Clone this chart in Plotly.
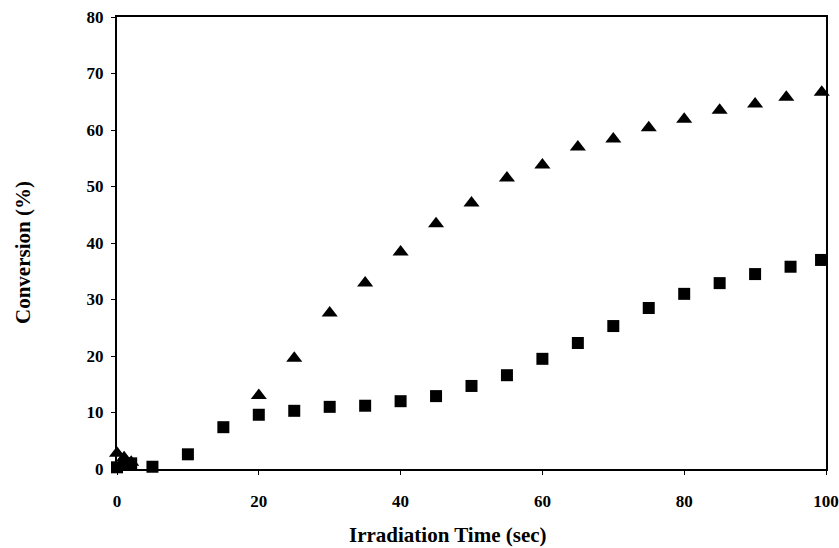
import plotly.graph_objects as go

time_tri = [0, 1, 2, 20, 25, 30, 35, 40, 45, 50, 55, 60, 65, 70, 75, 80, 85, 90, 94.4, 99.4, 100.3]
conv_tri = [2.8, 2.0, 1.2, 13.0, 19.6, 27.6, 32.9, 38.4, 43.4, 47.1, 51.5, 53.8, 57.0, 58.4, 60.4, 61.9, 63.5, 64.6, 65.8, 66.7, 67.6]

time_sq = [0, 1, 2, 5, 10, 15, 20, 25, 30, 35, 40, 45, 50, 55, 60, 65, 70, 75, 80, 85, 90, 95, 99.3]
conv_sq = [0.3, 0.8, 1.0, 0.4, 2.6, 7.4, 9.6, 10.3, 11.0, 11.2, 12.0, 12.9, 14.7, 16.6, 19.5, 22.3, 25.3, 28.5, 31.0, 32.9, 34.5, 35.8, 37.0]

x_ticks = [0, 20, 40, 60, 80, 100]
y_ticks = [0, 10, 20, 30, 40, 50, 60, 70, 80]

x_title = "Irradiation Time (sec)"
y_title = "Conversion (%)"

fig = go.Figure()
fig.add_trace(go.Scatter(x=time_tri, y=conv_tri, mode="markers", cliponaxis=False,
                         marker=dict(symbol="triangle-up", size=14, color="black"),
                         showlegend=False))
fig.add_trace(go.Scatter(x=time_sq, y=conv_sq, mode="markers", cliponaxis=False,
                         marker=dict(symbol="square", size=12, color="black"),
                         showlegend=False))

font_tick = dict(family="Liberation Serif", size=17, color="black")
title_font = dict(family="Liberation Serif", size=21, color="black")
fig.update_layout(
    width=839, height=548,
    margin=dict(l=117, r=13, t=17, b=79, autoexpand=False),
    paper_bgcolor="white", plot_bgcolor="white",
    font=dict(family="Liberation Serif", color="black"),
    xaxis=dict(range=[0, 100], tickvals=x_ticks, ticktext=[f"<b>{v}</b>" for v in x_ticks],
               ticks="outside", ticklen=4, tickwidth=1, tickcolor="black",
               ticklabelstandoff=12, automargin=False,
               showline=True, linecolor="black", linewidth=2, mirror=True,
               showgrid=False, zeroline=False, tickfont=font_tick),
    yaxis=dict(range=[0, 80], tickvals=y_ticks, ticktext=[f"<b>{v}</b>" for v in y_ticks],
               ticks="outside", ticklen=4, tickwidth=1, tickcolor="black",
               ticklabelstandoff=4, automargin=False,
               showline=True, linecolor="black", linewidth=2, mirror=True,
               showgrid=False, zeroline=False, tickfont=font_tick),
    annotations=[
        dict(text=f"<b>{x_title}</b>", xref="paper", yref="paper", x=0.467, y=-0.146,
             xanchor="center", yanchor="middle", showarrow=False, font=title_font),
        dict(text=f"<b>{y_title}</b>", xref="paper", yref="paper", x=-0.1326, y=0.48,
             xanchor="center", yanchor="middle", showarrow=False, textangle=-90, font=title_font),
    ],
)
fig.write_html("out.html")
